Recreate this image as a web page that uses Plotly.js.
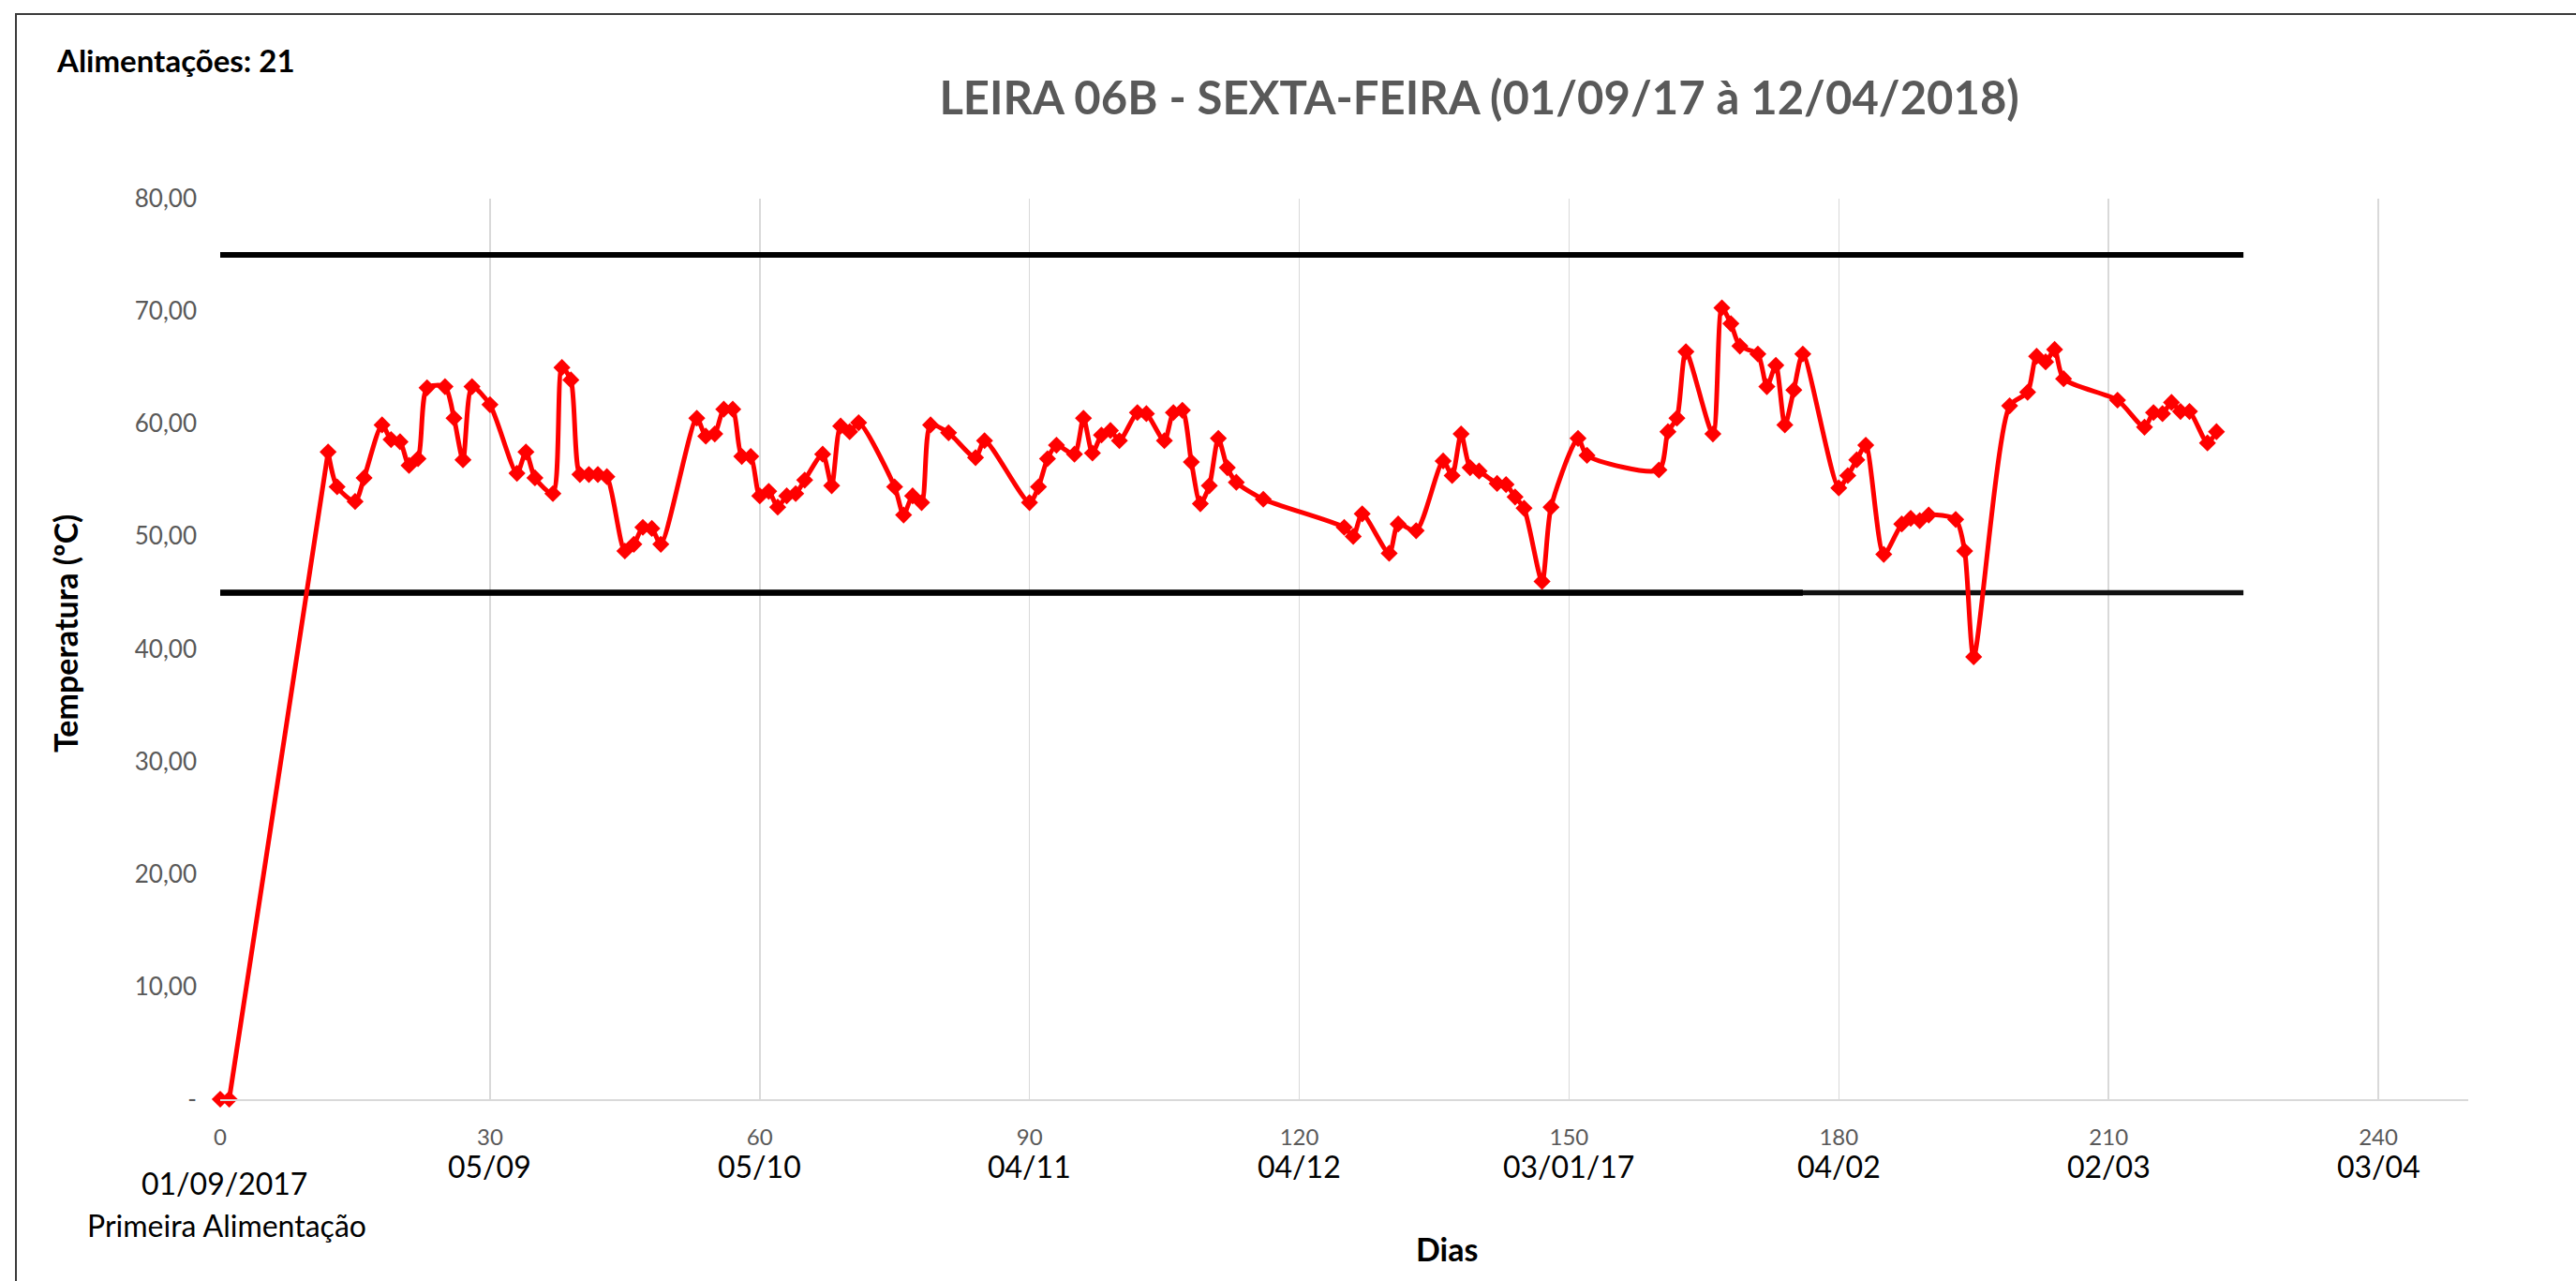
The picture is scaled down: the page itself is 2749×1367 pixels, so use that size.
<!DOCTYPE html>
<html>
<head>
<meta charset="utf-8">
<script src="https://cdn.plot.ly/plotly-3.0.1.min.js"></script>
<style>
  html, body { margin: 0; padding: 0; background: #fff; overflow: hidden; }
  #wrap { position: relative; width: 2749px; height: 1367px; }
  #chart { position: absolute; left: 0; top: 0; width: 2749px; height: 1367px; }
  #frame { position: absolute; left: 16px; top: 14px; width: 2800px; height: 1400px;
           border-top: 2px solid #3a3a3a; border-left: 2px solid #3a3a3a; pointer-events: none; }
</style>
</head>
<body>
<div id="wrap">
  <div id="chart"></div>
  <div id="frame"></div>
</div>
<script>
// ---- data ----
const days = [0,1,12,13,15,16,18,19,20,21,22,23,25,26,27,28,30,33,34,35,37,38,39,40,41,42,43,45,46,47,48,49,
  53,54,55,56,57,58,59,60,61,62,63,64,65,67,68,69,70,71,75,76,77,78,79,81,84,85,
  90,91,92,93,95,96,97,98,99,100,102,103,105,106,107,108,109,110,111,112,113,116,
  125,126,127,130,131,133,136,137,138,139,140,142,143,144,145,147,148,151,152,
  160,161,162,163,166,167,168,169,171,172,173,174,175,176,180,181,182,183,185,187,188,189,190,193,194,195,
  199,201,202,203,204,205,211,214,215,216,217,218,219,221,222];
const temps = [0,0,57.5,54.4,53.1,55.2,59.9,58.6,58.4,56.3,56.9,63.2,63.3,60.5,56.8,63.3,61.7,55.6,57.5,55.2,53.8,65.0,63.9,55.5,55.5,55.5,55.3,48.7,49.3,50.8,50.7,49.3,
  60.5,58.9,59.1,61.3,61.3,57.1,57.1,53.6,54.0,52.6,53.6,53.8,55.0,57.3,54.5,59.8,59.3,60.1,54.4,51.9,53.6,53.0,59.9,59.2,57.0,58.5,
  53.0,54.4,56.9,58.1,57.3,60.5,57.4,59.0,59.4,58.5,61.0,60.9,58.5,61.0,61.2,56.6,52.9,54.5,58.7,56.1,54.8,53.3,
  50.8,50.0,52.0,48.5,51.1,50.5,56.7,55.4,59.1,56.1,55.8,54.7,54.6,53.5,52.5,46.0,52.6,58.7,57.2,
  55.9,59.3,60.5,66.4,59.1,70.3,68.9,66.9,66.2,63.3,65.2,59.9,63.0,66.2,54.3,55.4,56.8,58.1,48.4,51.1,51.6,51.4,51.9,51.5,48.7,39.3,
  61.6,62.8,66.0,65.5,66.6,64.0,62.1,59.7,61.0,60.9,61.9,61.1,61.1,58.3,59.3];

const limitX = [0, 225];
const upperLimit = [75, 75];
const lowerLimit = [45, 45];
const lowerLimitPartX = [0, 176];

const xTickVals = [0,30,60,90,120,150,180,210,240];
const dateTickVals = [30,60,90,120,150,180,210,240];
const dateLabels = ['05/09','05/10','04/11','04/12','03/01/17','04/02','02/03','03/04'];
const yTickVals = [0,10,20,30,40,50,60,70,80];
const yTickText = ['-','10,00','20,00','30,00','40,00','50,00','60,00','70,00','80,00'];

const titleText = 'LEIRA 06B - SEXTA-FEIRA (01/09/17 à 12/04/2018)';
const feedText = 'Alimentações: 21';
const yTitle = 'Temperatura (ºC)';
const xTitle = 'Dias';
const firstDateLines = ['01/09/2017', 'Primeira Alimentação'];

const FONT = "Lato, 'Open Sans', 'Liberation Sans', sans-serif";
const RED = '#ff0000';

// the rise from the first feeding is drawn straight, the rest smoothed (as in the reference)
const startDays = days.slice(0, 3), startTemps = temps.slice(0, 3);
const restDays = days.slice(2), restTemps = temps.slice(2);

const traces = [
  { x: limitX, y: upperLimit, mode: 'lines', line: {color: '#000', width: 6}, hoverinfo: 'skip', showlegend: false },
  { x: limitX, y: lowerLimit, mode: 'lines', line: {color: '#111', width: 5.5}, hoverinfo: 'skip', showlegend: false },
  { x: lowerLimitPartX, y: lowerLimit, mode: 'lines', line: {color: '#000', width: 6.5}, hoverinfo: 'skip', showlegend: false },
  { x: startDays, y: startTemps, mode: 'lines', line: {color: RED, width: 5}, cliponaxis: false, showlegend: false },
  { x: restDays, y: restTemps, mode: 'lines', line: {color: RED, width: 5, shape: 'spline', smoothing: 0.7}, showlegend: false },
  { x: days, y: temps, mode: 'markers', marker: {symbol: 'diamond', size: 14, color: RED}, cliponaxis: false, showlegend: false }
];

const annotations = [];
dateTickVals.forEach((v, i) => {
  annotations.push({ x: v, xref: 'x', y: (1173 - 1244) / 961, yref: 'paper', text: dateLabels[i], showarrow: false,
    xanchor: 'center', yanchor: 'middle', font: {family: FONT, size: 32, color: '#000'} });
});
annotations.push({ x: 0.5, xref: 'x', y: (1173 - 1262) / 961, yref: 'paper', text: firstDateLines[0], showarrow: false,
  xanchor: 'center', yanchor: 'middle', font: {family: FONT, size: 32, color: '#000'} });
annotations.push({ x: 0.7, xref: 'x', y: (1173 - 1307) / 961, yref: 'paper', text: firstDateLines[1], showarrow: false,
  xanchor: 'center', yanchor: 'middle', font: {family: FONT, size: 32, color: '#000'} });
annotations.push({ x: (58 - 235) / 2399, xref: 'paper', y: (1173 - 64) / 961, yref: 'paper', text: '<b>' + feedText + '</b>', showarrow: false,
  xanchor: 'left', yanchor: 'middle', font: {family: FONT, size: 33, color: '#000'} });
annotations.push({ x: (69 - 235) / 2399, xref: 'paper', y: (1173 - 676) / 961, yref: 'paper', text: '<b>' + yTitle + '</b>', showarrow: false,
  textangle: -90, xanchor: 'center', yanchor: 'middle', font: {family: FONT, size: 34, color: '#000'} });
annotations.push({ x: (1544 - 235) / 2399, xref: 'paper', y: (1173 - 1332) / 961, yref: 'paper', text: '<b>' + xTitle + '</b>', showarrow: false,
  xanchor: 'center', yanchor: 'middle', font: {family: FONT, size: 34, color: '#000'} });

const layout = {
  width: 2749, height: 1367,
  margin: {l: 235, r: 115, t: 212, b: 194},
  paper_bgcolor: '#fff', plot_bgcolor: '#fff',
  title: { text: '<b>' + titleText + '</b>', xref: 'container', yref: 'container',
    x: 1578.6/2749, xanchor: 'center', y: 1 - 105/1367, yanchor: 'middle',
    font: {family: FONT, size: 49, color: '#595959'} },
  xaxis: { range: [0, 250], tickvals: xTickVals, showgrid: true, gridcolor: '#d9d9d9', gridwidth: 1.5,
    showline: true, linecolor: '#d9d9d9', linewidth: 2, zeroline: false, ticks: '',
    ticklabelstandoff: 18, tickfont: {family: FONT, size: 24, color: '#595959'} },
  yaxis: { range: [0, 80], tickvals: yTickVals, ticktext: yTickText, showgrid: false, zeroline: false,
    showline: false, ticks: '', ticklabelstandoff: 24,
    tickfont: {family: FONT, size: 26, color: '#595959'} },
  annotations: annotations,
  showlegend: false
};

Plotly.newPlot('chart', traces, layout, {displayModeBar: false, staticPlot: true});
</script>
</body>
</html>
